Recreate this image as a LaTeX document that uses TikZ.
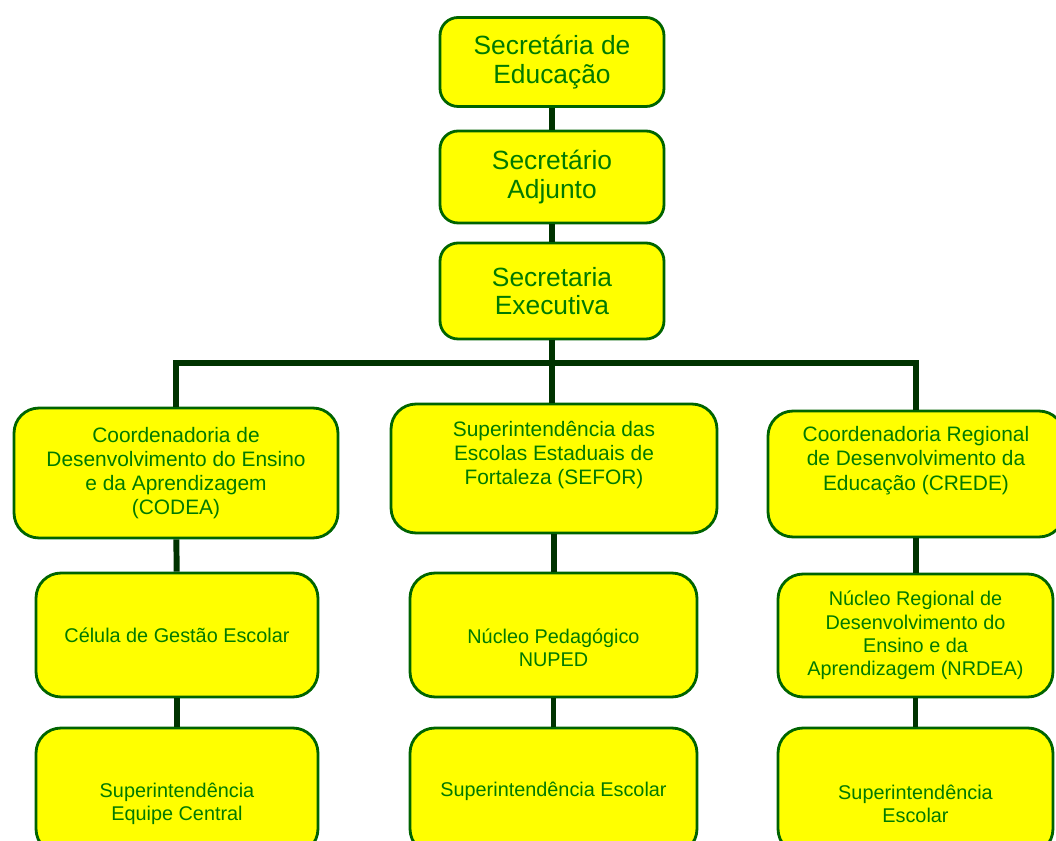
\documentclass[tikz,border=0pt]{standalone}
\usepackage{fontspec}
\setmainfont{Liberation Sans}
\usepackage{tikz}
\usetikzlibrary{positioning}
\definecolor{orgyellow}{HTML}{FFFF00}
\definecolor{orgborder}{HTML}{006400}
\definecolor{orgtext}{HTML}{007A00}
\definecolor{orgline}{HTML}{003300}
\begin{document}
\begin{tikzpicture}[x=0.02cm,y=-0.02cm,
 orgbox/.style={draw=orgborder,fill=orgyellow,line width=1.6pt,text=orgtext,align=center,inner sep=2pt},
 headbox/.style={orgbox,rounded corners=0.36cm,minimum width=4.48cm,font=\fontsize{15}{16.4}\selectfont},
 unitbox/.style={orgbox,rounded corners=0.5cm,font=\fontsize{11.9}{13.8}\selectfont},
 subbox/.style={orgbox,rounded corners=0.5cm,font=\fontsize{11.3}{13.3}\selectfont},
 orglink/.style={draw=orgline,line width=3.4pt}
]
\useasboundingbox (0,0) rectangle (1056,841);
\clip (0,0) rectangle (1056,841);
\node[headbox,minimum height=1.78cm] (seduc) at (552,62) {Secretária de\\Educação};
\node[headbox,minimum height=1.84cm] (adjunto) at (552,177) {Secretário\\Adjunto};
\node[headbox,minimum height=1.92cm] (exec) at (552,291) {Secretaria\\Executiva};
\coordinate (bus) at (552,363);
\node[unitbox,minimum width=6.48cm,minimum height=2.6cm] (codea) at (176,473) {Coordenadoria de\\Desenvolvimento do Ensino\\e da Aprendizagem\\(CODEA)};
\node[unitbox,minimum width=6.52cm,minimum height=2.58cm] (sefor) at (554,468.5) {Superintendência das\\Escolas Estaduais de\\Fortaleza (SEFOR)\\\strut};
\node[unitbox,minimum width=5.92cm,minimum height=2.52cm] (crede) at (916,474) {Coordenadoria Regional\\de Desenvolvimento da\\Educação (CREDE)\\\strut};
\node[subbox,minimum width=5.64cm,minimum height=2.48cm] (gestao) at (177,635) {Célula de Gestão Escolar};
\node[subbox,minimum width=5.74cm,minimum height=2.48cm] (nuped) at (553.5,635) {\strut\\Núcleo Pedagógico\\NUPED};
\node[subbox,minimum width=5.5cm,minimum height=2.46cm] (nrdea) at (915.5,635.5) {Núcleo Regional de\\Desenvolvimento do\\Ensino e da\\Aprendizagem (NRDEA)};
\node[subbox,minimum width=5.64cm,minimum height=2.52cm] (central) at (177,791) {\strut\\Superintendência\\Equipe Central};
\node[subbox,minimum width=5.74cm,minimum height=2.52cm] (escmid) at (553.5,791) {Superintendência Escolar};
\node[subbox,minimum width=5.5cm,minimum height=2.52cm] (escright) at (915.5,791) {\strut\\Superintendência\\Escolar};
\draw[orglink] (seduc)--(adjunto);
\draw[orglink] (adjunto)--(exec);
\draw[orglink] (exec.south)--(exec.south |- sefor.north);
\draw[orglink] (codea.north)--(codea.north |- bus)-|(crede.north);
\draw[orglink] (codea)--(gestao);
\draw[orglink] (gestao)--(central);
\draw[orglink] (sefor.south)--(sefor.south |- nuped.north);
\draw[orglink] (nuped)--(escmid);
\draw[orglink] (crede.south)--(crede.south |- nrdea.north);
\draw[orglink] (nrdea)--(escright);
\end{tikzpicture}
\end{document}
